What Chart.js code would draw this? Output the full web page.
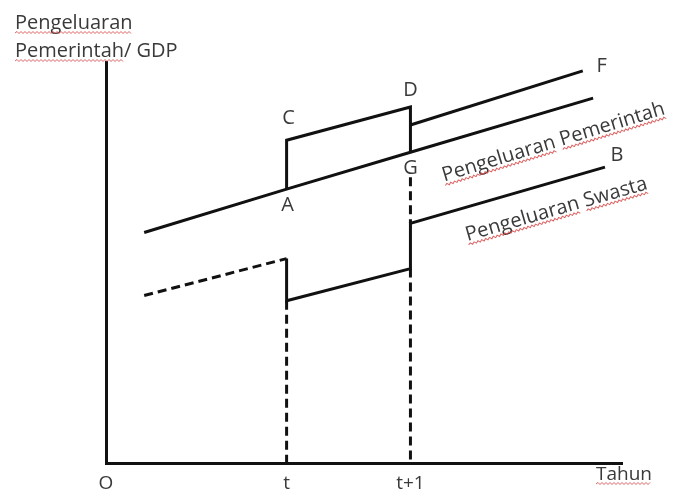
<!DOCTYPE html>
<html>
<head>
<meta charset="utf-8">
<script src="https://cdn.jsdelivr.net/npm/chart.js@4.4.1/dist/chart.umd.min.js"></script>
<style>
  html, body { margin: 0; padding: 0; background: #fff; }
  #wrap { width: 674px; height: 496px; }
</style>
</head>
<body>
<div id="wrap"><canvas id="chart" width="674" height="496"></canvas></div>
<script>
// Posisi tahun pada sumbu x (unit bebas)
const tickValues = [0, 35, 59];
const tickLabels = ['O', 't', 't+1'];

// Pengeluaran Pemerintah (garis tengah, lewat A dan G)
const govX = [7.4, 35, 59, 94.4];
const govY = [57.5, 68.3, 77.5, 91];

// Lonjakan A - C - D - G
const jumpX = [35, 35, 59, 59];
const jumpY = [68.3, 80.5, 88.8, 77.5];

// Garis setelah D menuju F
const upperX = [59, 92.4];
const upperY = [84.3, 97.8];

// Pengeluaran Swasta sebelum t (putus-putus)
const privBeforeX = [7.4, 35];
const privBeforeY = [41.8, 51];

// Pengeluaran Swasta sesudah t, menuju B
const privX = [35, 35, 59, 59, 96.7];
const privY = [51, 40.5, 48.5, 59.8, 73.8];

// Garis bantu vertikal putus-putus
const guideTX = [35, 35];
const guideTY = [40.5, 0];
const guideT1X = [59, 59];
const guideT1Y = [48.5, 0];
const guideGX = [59, 59];
const guideGY = [71.3, 59.8];

// Nama titik
const pointNames = ['A', 'C', 'D', 'G', 'F', 'B'];
const pointX = [35, 35, 59, 59, 92.4, 96.7];
const pointY = [68.3, 80.5, 88.8, 77.5, 97.8, 73.8];

const FONT = '"Open Sans", "DejaVu Sans", sans-serif';
const TEXT = '#3a3a3a';

const toPoints = (xs, ys) => xs.map((x, i) => ({ x: x, y: ys[i] }));

function seri(xs, ys, dashed) {
    return {
        data: toPoints(xs, ys),
        borderColor: '#111',
        borderWidth: 3,
        borderDash: dashed ? [9, 5] : [],
        borderCapStyle: 'butt',
        borderJoinStyle: 'miter',
        pointRadius: 0,
        pointHoverRadius: 0,
        fill: false,
        tension: 0
    };
}

// Garis bergelombang merah (seperti koreksi ejaan)
function squiggle(ctx, x0, x1, yb) {
    ctx.save();
    ctx.strokeStyle = 'rgba(215, 70, 70, 0.85)';
    ctx.lineWidth = 1;
    ctx.beginPath();
    let up = false;
    ctx.moveTo(x0, yb);
    for (let px = x0 + 2; px <= x1; px += 2) {
        up = !up;
        ctx.lineTo(px, yb + (up ? -1.5 : 0.5));
    }
    ctx.stroke();
    ctx.restore();
}

function teks(ctx, str, x, yb, underline, size) {
    ctx.font = size + 'px ' + FONT;
    ctx.fillStyle = TEXT;
    ctx.textAlign = 'left';
    ctx.textBaseline = 'alphabetic';
    ctx.fillText(str, x, yb);
    if (underline) {
        const w = ctx.measureText(underline).width;
        squiggle(ctx, x, x + w, yb + 4);
    }
}

// Label miring mengikuti garis
function teksMiring(ctx, words, cx, cy, angle, size) {
    ctx.save();
    ctx.translate(cx, cy);
    ctx.rotate(angle);
    ctx.font = size + 'px ' + FONT;
    ctx.fillStyle = TEXT;
    ctx.textBaseline = 'alphabetic';
    ctx.textAlign = 'left';
    const full = words.join(' ');
    const total = ctx.measureText(full).width;
    let x = -total / 2;
    ctx.fillText(full, x, size * 0.35);
    words.forEach(w => {
        const ww = ctx.measureText(w).width;
        squiggle(ctx, x, x + ww, size * 0.35 + 4);
        x += ww + ctx.measureText(' ').width;
    });
    ctx.restore();
}

const annotasi = {
    id: 'annotasi',
    afterDatasetsDraw(chart) {
        const ctx = chart.ctx;
        const sx = chart.scales.x;
        const sy = chart.scales.y;

        // Judul sumbu
        teks(ctx, 'Pengeluaran', 15, 29, 'Pengeluaran', 20);
        teks(ctx, 'Pemerintah/ GDP', 15, 57, 'Pemerintah', 20);
        teks(ctx, 'Tahun', 596, 480, 'Tahun', 19);

        // Nama titik
        const offsets = {
            A: [1, 16], C: [2, -22], D: [0, -17],
            G: [0, 16], F: [19, -5], B: [12, -12]
        };
        ctx.font = '20px ' + FONT;
        ctx.fillStyle = TEXT;
        ctx.textAlign = 'center';
        ctx.textBaseline = 'middle';
        pointNames.forEach((n, i) => {
            const px = sx.getPixelForValue(pointX[i]) + offsets[n][0];
            const py = sy.getPixelForValue(pointY[i]) + offsets[n][1];
            ctx.fillText(n, px, py);
        });

        // Label garis Pemerintah
        const gx0 = sx.getPixelForValue(govX[0]), gy0 = sy.getPixelForValue(govY[0]);
        const gx1 = sx.getPixelForValue(govX[3]), gy1 = sy.getPixelForValue(govY[3]);
        const ga = Math.atan2(gy1 - gy0, gx1 - gx0);
        const gcx = 553;
        const gcy = gy0 + (gcx - gx0) * Math.tan(ga) + 31;
        teksMiring(ctx, ['Pengeluaran', 'Pemerintah'], gcx, gcy, ga - 0.005, 20);

        // Label garis Swasta
        const n = privX.length - 1;
        const bx0 = sx.getPixelForValue(privX[n - 1]), by0 = sy.getPixelForValue(privY[n - 1]);
        const bx1 = sx.getPixelForValue(privX[n]), by1 = sy.getPixelForValue(privY[n]);
        const ba = Math.atan2(by1 - by0, bx1 - bx0);
        const bcx = 556;
        const bcy = by0 + (bcx - bx0) * Math.tan(ba) + 27;
        teksMiring(ctx, ['Pengeluaran', 'Swasta'], bcx, bcy, ba, 20);
    }
};

new Chart(document.getElementById('chart').getContext('2d'), {
    type: 'line',
    data: {
        datasets: [
            seri(govX, govY, false),
            seri(jumpX, jumpY, false),
            seri(upperX, upperY, false),
            seri(privBeforeX, privBeforeY, true),
            seri(privX, privY, false),
            seri(guideTX, guideTY, true),
            seri(guideT1X, guideT1Y, true),
            seri(guideGX, guideGY, true)
        ]
    },
    options: {
        responsive: false,
        animation: false,
        events: [],
        layout: { padding: { left: 106, top: 62, right: 52, bottom: -8 } },
        plugins: {
            legend: { display: false },
            tooltip: { enabled: false }
        },
        scales: {
            x: {
                type: 'linear',
                min: 0,
                max: 100,
                grid: { display: false, drawTicks: false },
                border: { display: true, color: '#111', width: 3 },
                afterBuildTicks: (scale) => {
                    scale.ticks = tickValues.map(v => ({ value: v }));
                },
                ticks: {
                    autoSkip: false,
                    maxRotation: 0,
                    padding: 9,
                    color: TEXT,
                    font: { family: FONT, size: 19 },
                    callback: (value, index) => tickLabels[index]
                }
            },
            y: {
                type: 'linear',
                min: 0,
                max: 100,
                grid: { display: false, drawTicks: false },
                border: { display: true, color: '#111', width: 3 },
                ticks: { display: false }
            }
        }
    },
    plugins: [annotasi]
});
</script>
</body>
</html>
